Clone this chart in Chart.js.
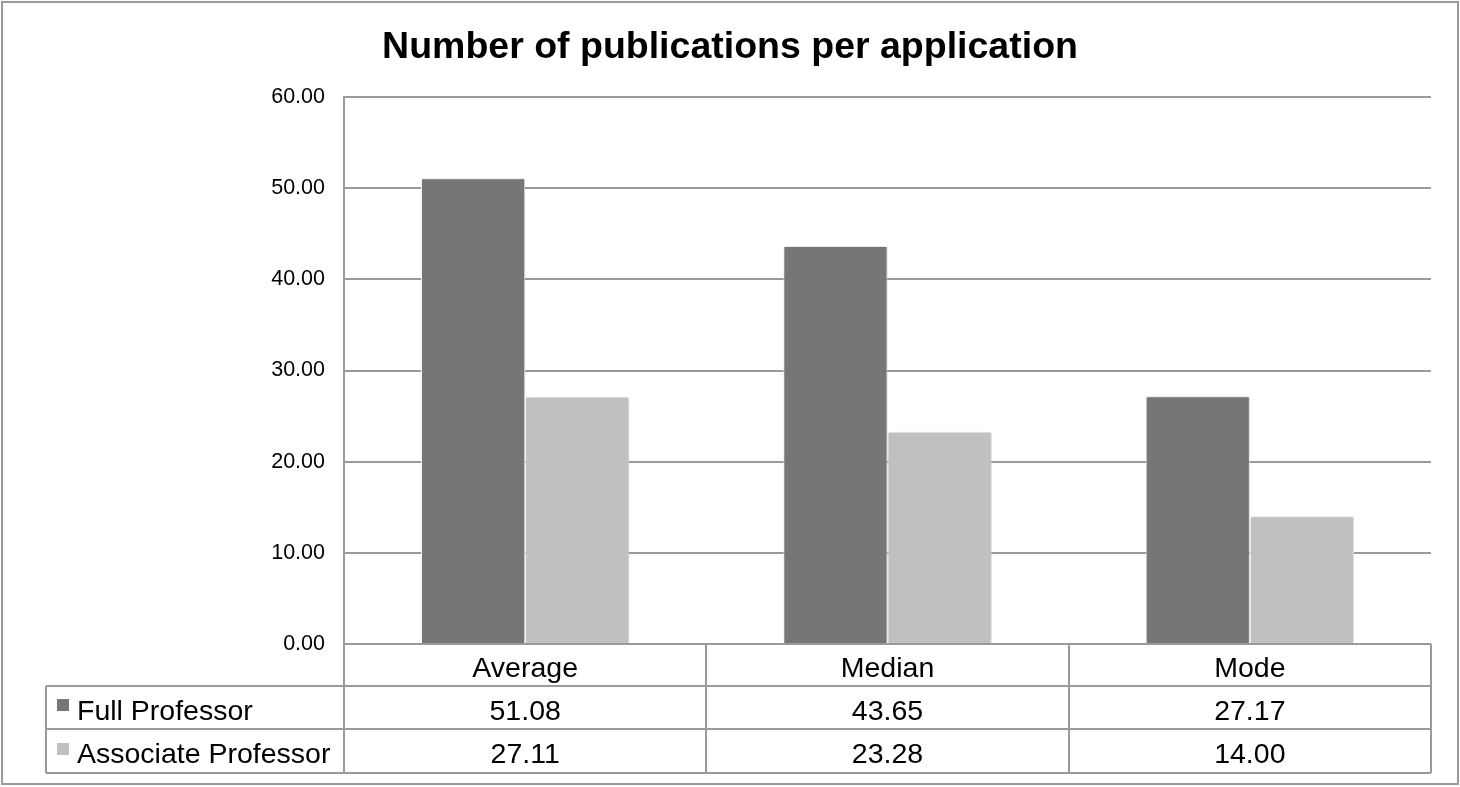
<!DOCTYPE html>
<html>
<head>
<meta charset="utf-8">
<script src="https://cdn.jsdelivr.net/npm/chart.js@4"></script>
<style>
  html, body { margin: 0; padding: 0; background: #fff; }
  #wrap { width: 1460px; height: 787px; }
</style>
</head>
<body>
<div id="wrap"><canvas id="grafico" width="1460" height="787"></canvas></div>
<script>
const titulo = 'Number of publications per application';
const categorias = ['Average', 'Median', 'Mode'];
const series = ['Full Professor', 'Associate Professor'];
const fullProfessor = [51.08, 43.65, 27.17];
const associateProfessor = [27.11, 23.28, 14.00];
const yTicks = [0, 10, 20, 30, 40, 50, 60];

const colores = ['#767676', '#c0c0c0'];
const gris = '#9a9a9a';
const fuente = '"Liberation Sans", Arial, sans-serif';

// Sombra suave de las barras
const sombraBarras = {
  id: 'sombraBarras',
  beforeDatasetsDraw(chart) {
    const ctx = chart.ctx;
    ctx.save();
    ctx.shadowColor = 'rgba(0,0,0,0.22)';
    ctx.shadowBlur = 4;
    ctx.shadowOffsetX = 1;
    ctx.shadowOffsetY = 0;
  },
  afterDatasetsDraw(chart) {
    chart.ctx.restore();
  }
};

// Titulo, tabla de datos y marco exterior
const tablaDatos = {
  id: 'tablaDatos',
  afterDraw(chart) {
    const ctx = chart.ctx;
    const area = chart.chartArea;
    const x = chart.scales.x;
    const w = (area.right - area.left) / categorias.length;
    const izq = 46;
    const filas = [area.bottom, 686, 729, 773];

    ctx.save();
    ctx.strokeStyle = gris;
    ctx.lineWidth = 2;

    // marco exterior
    ctx.strokeRect(2, 2, 1456, 782);

    ctx.beginPath();
    // lineas horizontales
    for (let i = 1; i < filas.length; i++) {
      ctx.moveTo(izq, filas[i]);
      ctx.lineTo(area.right, filas[i]);
    }
    // columna de leyenda
    ctx.moveTo(izq, filas[1]);
    ctx.lineTo(izq, filas[3]);
    // divisiones de categorias
    for (let i = 0; i <= categorias.length; i++) {
      const px = i < categorias.length ? x.getPixelForValue(i) - w / 2 : area.right;
      ctx.moveTo(Math.round(px), filas[0]);
      ctx.lineTo(Math.round(px), filas[3]);
    }
    ctx.stroke();

    // titulo
    ctx.fillStyle = '#000';
    ctx.textAlign = 'center';
    ctx.textBaseline = 'alphabetic';
    ctx.font = 'bold 37.5px ' + fuente;
    ctx.fillText(titulo, 730, 58);

    // textos de la tabla
    ctx.font = '28.5px ' + fuente;
    const valores = [fullProfessor, associateProfessor];
    categorias.forEach((cat, i) => {
      const cx = x.getPixelForValue(i);
      ctx.fillText(cat, cx, 677);
      valores.forEach((serie, j) => {
        ctx.fillText(serie[i].toFixed(2), cx, 720 + j * 43);
      });
    });

    ctx.textAlign = 'left';
    series.forEach((nombre, j) => {
      ctx.fillStyle = colores[j];
      ctx.fillRect(57, 699 + j * 44, 12, 12);
      ctx.fillStyle = '#000';
      ctx.fillText(nombre, 77, 720 + j * 43);
    });
    ctx.restore();
  }
};

const ctx = document.getElementById('grafico').getContext('2d');
new Chart(ctx, {
  type: 'bar',
  data: {
    labels: categorias,
    datasets: [
      {
        label: series[0],
        data: fullProfessor,
        backgroundColor: colores[0],
        borderColor: '#ffffff',
        borderWidth: 1
      },
      {
        label: series[1],
        data: associateProfessor,
        backgroundColor: colores[1],
        borderColor: '#ffffff',
        borderWidth: 1
      }
    ]
  },
  options: {
    responsive: false,
    animation: false,
    layout: {
      padding: { top: 97, right: 29, bottom: 143, left: 0 }
    },
    datasets: {
      bar: { categoryPercentage: 0.575, barPercentage: 1.0 }
    },
    scales: {
      x: {
        display: false
      },
      y: {
        min: 0,
        max: 60,
        afterFit(scale) { scale.width = 344; },
        afterBuildTicks(scale) { scale.ticks = yTicks.map(v => ({ value: v })); },
        grid: { color: gris, lineWidth: 2, drawTicks: false },
        border: { display: true, color: gris, width: 2 },
        ticks: {
          padding: 19,
          color: '#000',
          font: { family: fuente, size: 21.5 },
          callback: v => Number(v).toFixed(2)
        }
      }
    },
    plugins: {
      legend: { display: false },
      tooltip: { enabled: false }
    }
  },
  plugins: [sombraBarras, tablaDatos]
});
</script>
</body>
</html>
